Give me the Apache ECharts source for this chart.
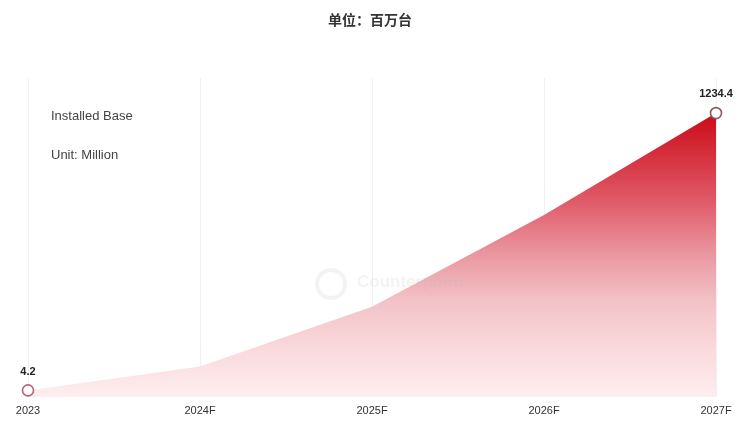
<!DOCTYPE html>
<html>
<head>
<meta charset="utf-8">
<script src="https://cdn.jsdelivr.net/npm/echarts@6/dist/echarts.min.js"></script>
<style>html,body{margin:0;padding:0;background:#fff;}#c{width:740px;height:423px;}</style>
</head>
<body>
<div id="c"></div>
<script>
const categories = ['2023', '2024F', '2025F', '2026F', '2027F'];
const installedBase = [4.2, 110, 375, 782, 1234.4];
const labeledIdx = [0, 4];

const chart = echarts.init(document.getElementById('c'));
const data = installedBase.map((v, i) => {
  const shown = labeledIdx.includes(i);
  return {
    value: v,
    symbol: shown ? 'circle' : 'none',
    symbolSize: 11,
    itemStyle: shown ? { color: '#fff', borderColor: i === 0 ? '#b86478' : '#8a5a5c', borderWidth: 1.6 } : undefined,
    label: { show: shown, position: 'top', distance: 7, formatter: '{c}', color: '#222', fontWeight: 'bold', fontSize: 11, fontFamily: 'Liberation Sans, Arial' }
  };
});

chart.setOption({
  animation: false,
  backgroundColor: '#fff',
  title: {
    text: '单位：百万台', left: 'center', top: 8,
    textStyle: { fontSize: 14, fontWeight: 'bold', color: '#333', fontFamily: 'Noto Sans CJK SC' }
  },
  grid: { left: 28, right: 24, top: 78, bottom: 26, containLabel: false },
  xAxis: {
    type: 'category', data: categories, boundaryGap: false,
    axisLine: { show: false }, axisTick: { show: false },
    axisLabel: { color: '#333', fontSize: 11, margin: 8, fontFamily: 'Liberation Sans, Arial', interval: 0 },
    splitLine: { show: true, lineStyle: { color: '#f0f0f0', width: 1 } }
  },
  yAxis: { type: 'value', min: -25, max: 1390, show: false, splitLine: { show: false } },
  graphic: [
    { type: 'text', left: 51, top: 110, style: { text: 'Installed Base', fill: '#444', fontSize: 13, fontFamily: 'Liberation Sans, Arial' } },
    { type: 'text', left: 51, top: 149, style: { text: 'Unit: Million', fill: '#444', fontSize: 13, fontFamily: 'Liberation Sans, Arial' } },
    { type: 'circle', shape: { cx: 331, cy: 284, r: 14 }, style: { fill: 'none', stroke: 'rgba(190,190,190,0.18)', lineWidth: 4 }, z: 10 },
    { type: 'text', left: 357, top: 274, z: 10, style: { text: 'Counterpoint', fill: 'rgba(190,190,190,0.18)', fontSize: 17, fontWeight: 'bold', fontFamily: 'Liberation Sans, Arial' } }
  ],
  series: [{
    type: 'line',
    data: data,
    smooth: false,
    showSymbol: true,
    lineStyle: { width: 0 },
    areaStyle: {
      opacity: 1,
      origin: 'start',
      color: new echarts.graphic.LinearGradient(0, 0, 0, 1, [
        { offset: 0, color: '#cc0a16' },
        { offset: 0.31, color: '#e05a68' },
        { offset: 0.48, color: '#e9929b' },
        { offset: 0.66, color: '#f2c2c7' },
        { offset: 0.84, color: '#fadadd' },
        { offset: 1, color: '#fdeef0' }
      ])
    },
    z: 2
  }]
});
</script>
</body>
</html>
